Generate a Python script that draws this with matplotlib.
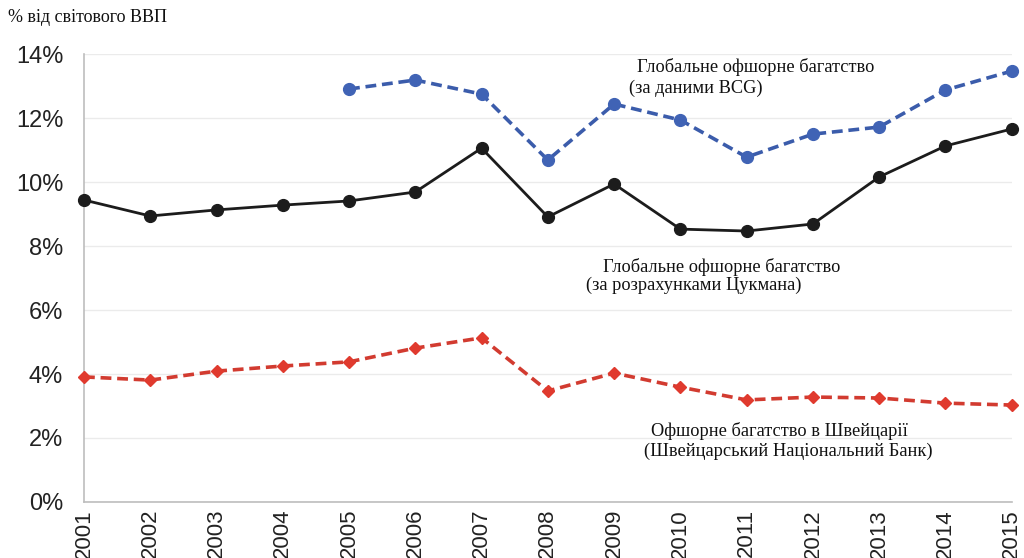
import matplotlib
matplotlib.use("Agg")
import matplotlib.pyplot as plt
import numpy as np

years = list(range(2001, 2016))
zucman = [9.44, 8.94, 9.13, 9.28, 9.41, 9.69, 11.06, 8.91, 9.94, 8.53, 8.47, 8.69, 10.16, 11.13, 11.66]
bcg_years = list(range(2005, 2016))
bcg = [12.91, 13.19, 12.75, 10.69, 12.44, 11.94, 10.78, 11.50, 11.72, 12.88, 13.47]
swiss = [3.91, 3.81, 4.09, 4.25, 4.38, 4.81, 5.13, 3.47, 4.03, 3.59, 3.19, 3.28, 3.25, 3.09, 3.03]
yticks = [0, 2, 4, 6, 8, 10, 12, 14]

fig = plt.figure(figsize=(10.24, 5.58), dpi=100)
ax = fig.add_axes([0.082, 0.1004, 0.906, 0.8026])

ax.plot(bcg_years, bcg, color="#3b5cab", ls=(0, (3, 1.6)), lw=2.6,
        marker="o", ms=8.5, mfc="#4063b5", mec="#4063b5", clip_on=False, zorder=3)
ax.plot(years, zucman, color="#1c1c1c", lw=2.0,
        marker="o", ms=8.5, clip_on=False, zorder=3)
ax.plot(years, swiss, color="#d23b30", ls=(0, (3, 1.6)), lw=2.6,
        marker="D", ms=6.5, mfc="#e03a2e", mec="#e03a2e", clip_on=False, zorder=3)

ax.set_xlim(2001, 2015)
ax.set_ylim(0, 14)
ax.set_xticks(years)
ax.set_xticklabels([str(y) for y in years], rotation=90, fontsize=16,
                   family="Liberation Sans", color="#222222", va="top")
ax.set_yticks(yticks)
ax.set_yticklabels([f"{v}%" for v in yticks], fontsize=17,
                   family="Liberation Sans", color="#222222")
ax.tick_params(length=0)
ax.tick_params(axis="y", pad=15)
ax.tick_params(axis="x", pad=5)
ax.grid(axis="y", color="#ebebeb", lw=1)
ax.set_axisbelow(True)
for s in ["top", "right"]:
    ax.spines[s].set_visible(False)
for s in ["left", "bottom"]:
    ax.spines[s].set_color("#bdbdbd")
    ax.spines[s].set_linewidth(1.2)

serif = dict(family="Liberation Serif", fontsize=13.2, color="#111111", va="center", ha="left")
ax.text(2009.35, 13.59, "Глобальне офшорне багатство", **serif)
ax.text(2009.22, 12.94, "(за даними BCG)", **serif)
ax.text(2008.83, 7.34, "Глобальне офшорне багатство", **serif)
ax.text(2008.57, 6.78, "(за розрахунками Цукмана)", **serif)
ax.text(2009.56, 2.22, "Офшорне багатство в Швейцарії", **serif)
ax.text(2009.45, 1.59, "(Швейцарський Національний Банк)", **serif)

fig.text(8 / 1024, 1 - 18 / 558, "% від світового ВВП", family="Liberation Serif",
         fontsize=13, color="#111111", ha="left", va="center")

fig.savefig("out.png", dpi=100)
